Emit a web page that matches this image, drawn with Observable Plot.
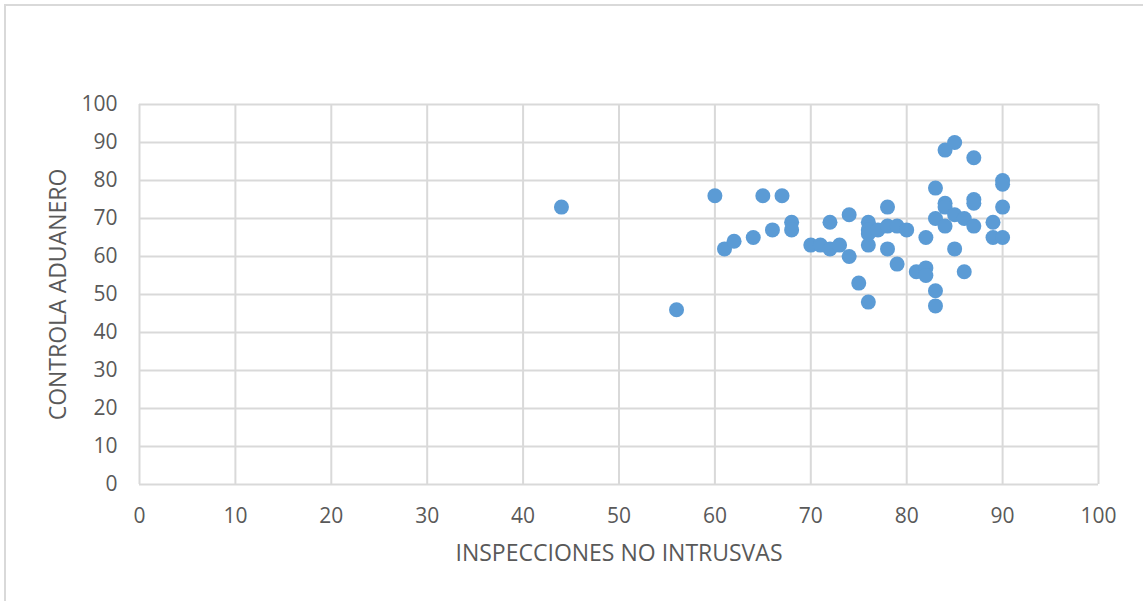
<!DOCTYPE html>
<html>
<head>
<meta charset="utf-8">
<script src="https://cdn.jsdelivr.net/npm/d3@7"></script>
<script src="https://cdn.jsdelivr.net/npm/@observablehq/plot@0.6"></script>
<style>
  html, body { margin: 0; padding: 0; background: #ffffff; }
  #wrap { position: relative; width: 1143px; height: 601px; overflow: hidden; }
  #frame { position: absolute; left: 4px; top: 4px; width: 1200px; height: 700px;
           border-left: 2px solid #d9d9d9; border-top: 2px solid #d9d9d9; box-sizing: border-box; }
  #chart { position: absolute; left: 0; top: 0; }
</style>
</head>
<body>
<div id="wrap"><div id="frame"></div><div id="chart"></div></div>
<script>
const inspecciones = [44, 56, 60, 61, 62, 64, 65, 66, 67, 68, 68, 70, 71, 72, 72, 73, 74, 74, 75, 76,
  76, 76, 76, 76, 77, 78, 78, 78, 79, 79, 80, 81, 82, 82, 82, 83, 83, 83, 83, 84,
  85, 84, 84, 84, 85, 85, 86, 86, 87, 87, 87, 87, 89, 89, 90, 90, 90, 90];
const controla = [73, 46, 76, 62, 64, 65, 76, 67, 76, 69, 67, 63, 63, 69, 62, 63, 71, 60, 53, 48,
  63, 69, 67, 66, 67, 73, 68, 62, 68, 58, 67, 56, 57, 55, 65, 78, 70, 51, 47, 88,
  90, 74, 73, 68, 71, 62, 70, 56, 86, 75, 74, 68, 69, 65, 65, 80, 79, 73];
const ticks = [0, 10, 20, 30, 40, 50, 60, 70, 80, 90, 100];
const xTitle = "INSPECCIONES NO INTRUSVAS";
const yTitle = "CONTROLA ADUANERO";

const data = inspecciones.map((x, i) => ({x, y: controla[i]}));
const grey = "#595959";
const font = "'Open Sans', sans-serif";

const chart = Plot.plot({
  width: 1143,
  height: 601,
  marginLeft: 139,
  marginRight: 45,
  marginTop: 104,
  marginBottom: 117,
  style: {fontFamily: font, background: "transparent", color: grey},
  x: {domain: [0, 100], ticks: ticks},
  y: {domain: [0, 100], ticks: ticks},
  marks: [
    Plot.gridX(ticks, {stroke: "#d9d9d9", strokeOpacity: 1, strokeWidth: 2}),
    Plot.gridY(ticks, {stroke: "#d9d9d9", strokeOpacity: 1, strokeWidth: 2}),
    Plot.axisX(ticks, {tickSize: 0, tickPadding: 24, fontSize: 21, fill: grey, label: null}),
    Plot.axisY(ticks, {tickSize: 0, tickPadding: 22, fontSize: 21, fill: grey, label: null}),
    Plot.dot(data, {x: "x", y: "y", r: 7.5, fill: "#5b9bd5", stroke: null}),
    Plot.text([xTitle], {text: d => d, frameAnchor: "bottom", dy: 69, lineAnchor: "middle",
      textAnchor: "middle", fontSize: 23, fill: grey}),
    Plot.text([yTitle], {text: d => d, frameAnchor: "left", dx: -81, rotate: -90,
      textAnchor: "middle", lineAnchor: "middle", fontSize: 23, fill: grey})
  ]
});
document.getElementById("chart").appendChild(chart);
</script>
</body>
</html>
